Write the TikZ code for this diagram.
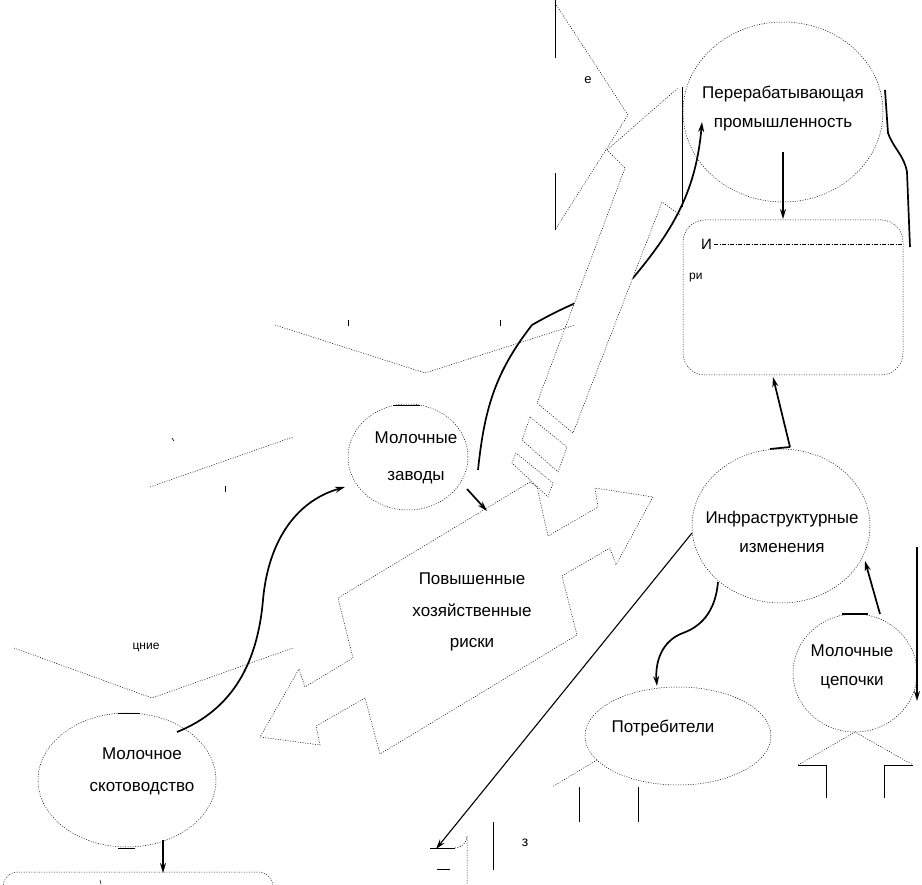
\documentclass[tikz,border=0pt]{standalone}
\usepackage{fontspec}
\setmainfont{Liberation Sans}
\usetikzlibrary{shapes.geometric,arrows.meta}
\begin{document}
\begin{tikzpicture}[x=1pt,y=-1pt,
  dl/.style={line width=0.5pt,dash pattern=on 1pt off 1.5pt},
  ell/.style={ellipse,draw,dl,inner sep=0pt},
  thk/.style={line width=1.7pt},
  arr/.style={-{Stealth[length=10pt,width=6pt]}},
  sl/.style={line width=0.6pt},
  txt/.style={font=\fontsize{17}{29}\selectfont,align=center,inner sep=0pt}]
\useasboundingbox (0,0) rectangle (922,885);

% ---------- ellipses ----------
\node[ell,minimum width=200pt,minimum height=180pt] (pp) at (783,112) {};
\node[ell,minimum width=120pt,minimum height=106pt] (zv) at (408,457) {};
\node[ell,minimum width=178pt,minimum height=154pt] (inf) at (781,526) {};
\node[ell,minimum width=124pt,minimum height=118pt] (ml) at (855,673) {};
\node[ell,minimum width=186pt,minimum height=98pt] (pt) at (678,736) {};
\node[ell,minimum width=178pt,minimum height=134pt] (sk) at (127,780) {};

% rounded box
\node[draw,dl,rounded corners=22pt,minimum width=220pt,minimum height=155pt,inner sep=0pt] (box) at (793,297.5) {};
\draw[line width=0.5pt,dash pattern=on 4pt off 1.5pt on 1pt off 1.5pt] (714,244) coordinate (bx1) -- (902,244) coordinate (bx2);

% ---------- connectors (drawn before white shapes) ----------
\coordinate (c2a) at (478,470);
\coordinate (c2b) at (532,325);
\coordinate (c2c) at (633,278);
\coordinate (c2d) at (702,122);
\draw[thk,arr] (c2a) to[out=84,in=232] (c2b) to[out=30,in=205] (c2c) to[out=50,in=-95] (c2d);

\coordinate (c1a) at (177,732);
\coordinate (c1b) at (263,600);
\coordinate (c1c) at (345,487);
\draw[thk,arr] (c1a) to[out=22,in=-95] (c1b) to[out=85,in=196] (c1c);

\coordinate (c3a) at (885,90);
\coordinate (c3b) at (888,133);
\coordinate (c3c) at (907,172);
\coordinate (c3d) at (910,247);
\draw[thk] (c3a) -- (c3b) to[out=-70,in=100] (c3c) -- (c3d);

\coordinate (c4a) at (718,582);
\coordinate (c4b) at (683,633);
\coordinate (c4c) at (657,686);
\draw[thk,arr] (c4a) to[out=-95,in=20] (c4b) to[out=200,in=95] (c4c);

\coordinate (c5a) at (790,447);
\coordinate (c5b) at (773,377);
\draw[thk,arr] (c5a) -- (c5b);
\draw[thk] (770,449) -- (c5a);

\coordinate (c6a) at (880,614);
\coordinate (c6b) at (865,561);
\draw[thk,arr] (c6a) -- (c6b);
\draw[thk] (842,614) -- (868,614);

\coordinate (c7a) at (917,547);
\coordinate (c7b) at (917,701);
\draw[thk,arr] (c7a) -- (c7b);

\coordinate (c8a) at (783,152);
\coordinate (c8b) at (783,219);
\draw[thk,arr] (c8a) -- (c8b);

\coordinate (c9a) at (467,489);
\coordinate (c9b) at (487,511);
\draw[thk,arr] (c9a) -- (c9b);

\coordinate (c10a) at (692,533);
\coordinate (c10b) at (436,849);
\draw[line width=1.1pt,arr] (c10a) -- (c10b);

\coordinate (c11a) at (163,840);
\coordinate (c11b) at (163,873);
\draw[thk,arr] (c11a) -- (c11b);

% short solid marks on ellipses
\draw[sl] (393,405) -- (420,405);
\draw[sl] (118,713) -- (140,713);
\draw[sl] (118,848) -- (135,848);

% ---------- dotted shapes ----------
% band (white, covering the curve)
\fill[white] (625,168) -- (537,403) -- (573,433) -- (662,202) -- cycle;
\draw[dl] (680,215) -- (662,202) -- (573,433) -- (537,403) -- (625,168) -- (607,150);
\draw[dl] (530,417) -- (522,440) -- (558,472) -- (567,447) -- cycle;
\draw[dl] (516,453) -- (512,463) -- (548,497) -- (553,483) -- cycle;

% top chevron
\draw[dl] (555,3) -- (628,115) -- (555,230);
\draw[sl] (555,0) -- (555,58);
\draw[sl] (555,173) -- (555,230);
\draw[dl] (607,150) -- (678,88);
\draw[sl] (682,87) -- (682,207);

% big double arrow
\draw[dl] (530,482) -- (338,598) -- (353,658) -- (305,687) -- (299,669) -- (260,737)
  -- (320,745) -- (316,726) -- (365,698) -- (380,754) -- (577,635) -- (562,576)
  -- (610,548) -- (616,565) -- (653,497) -- (595,488) -- (598,507) -- (548,536)
  -- (537,487) -- cycle;

% left chevrons
\draw[dl] (275,325) -- (425,373) -- (575,325);
\draw[sl] (348,320) -- (348,326);
\draw[sl] (500,320) -- (500,326);
\draw[dl] (150,487) -- (293,437);
\draw[sl] (225,486) -- (225,492);
\draw[sl] (172,438) -- (174,441);
\draw[dl] (14,648) -- (152,698) -- (293,648);

% bottom right pieces
\draw[dl] (597,760) -- (552,787);
\draw[sl] (579,787) -- (579,822);
\draw[sl] (638,787) -- (638,822);
\draw[dl] (798,765) -- (855,732) -- (913,765);
\draw[sl] (798,765) -- (826,765) -- (826,798);
\draw[sl] (884,798) -- (884,765) -- (913,765);

% bottom small box
\draw[sl] (430,848) -- (455,848);
\draw[dl] (455,848) arc[start angle=-90,end angle=0,radius=12pt] -- (467,885);
\draw[sl] (437,869) -- (450,869);
\draw[sl] (493,822) -- (493,870);

% bottom-left box
\draw[dl,rounded corners=15pt] (3,930) -- (3,872) -- (273,872) -- (273,930);
\draw[sl] (100,880) -- (101,884);

% ---------- texts ----------
\node[txt] (tpp) at (783,109) {Перерабатывающая\\промышленность};
\node[txt,font=\fontsize{17}{37}\selectfont] (tzv) at (416,458) {Молочные\\заводы};
\node[txt] (tinf) at (782,532) {Инфраструктурные\\изменения};
\node[txt] (tml) at (852,667) {Молочные\\цепочки};
\node[txt] (tpt) at (663,728) {Потребители};
\node[txt,font=\fontsize{17}{32}\selectfont] (tsk) at (142,771) {Молочное\\скотоводство};
\node[txt,font=\fontsize{17}{31.5}\selectfont] (trisk) at (472,612) {Повышенные\\хозяйственные\\риски};
\node[txt,font=\fontsize{13}{15}\selectfont] (te) at (588,80) {е};
\node[txt,font=\fontsize{12}{14}\selectfont] (tcn) at (146,647) {цние};
\node[txt,font=\fontsize{14}{16}\selectfont] (tz) at (525,843) {з};
\node[txt,font=\fontsize{15}{16}\selectfont,anchor=west] (tI) at (701,244) {И};
\node[txt,font=\fontsize{12}{14}\selectfont,anchor=west] (tri) at (689,278) {ри};
\end{tikzpicture}
\end{document}
